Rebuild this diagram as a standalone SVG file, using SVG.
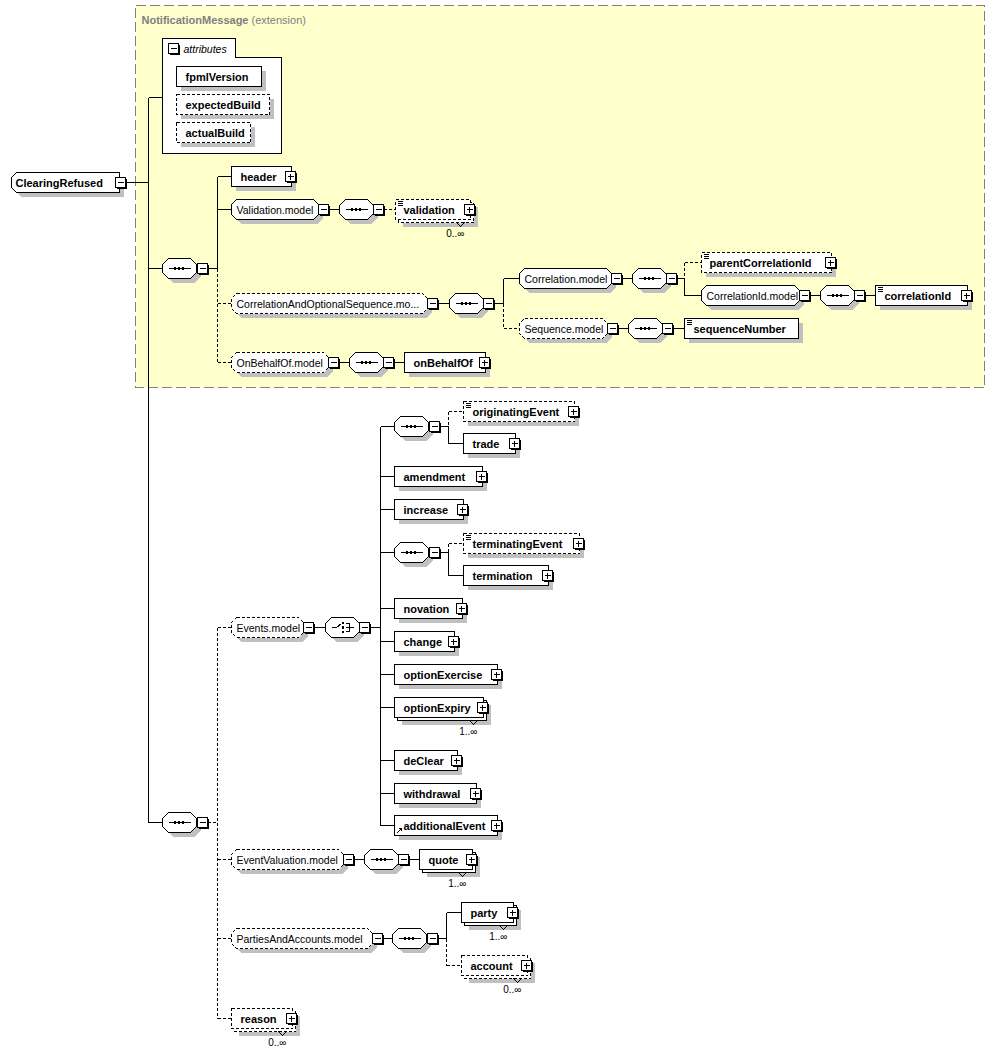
<svg xmlns="http://www.w3.org/2000/svg" xmlns:xlink="http://www.w3.org/1999/xlink" width="994" height="1054" viewBox="0 0 994 1054">
<style>
.nd{fill:#fff;stroke:#000;stroke-width:1}
.ds{stroke-dasharray:3,2}
.shd{fill:#c0c0c0;stroke:none}
.ln{stroke:#000;stroke-width:1;fill:none}
.dl{stroke:#000;stroke-width:1;fill:none;stroke-dasharray:3,2}
.b{font-family:"Liberation Sans",Arial,sans-serif;font-weight:bold;font-size:11px;fill:#000}
.m{font-family:"Liberation Sans",Arial,sans-serif;font-size:10.5px;fill:#000}
.c{font-family:"Liberation Sans","DejaVu Sans",Arial,sans-serif;font-size:10px;fill:#000;text-anchor:end}
.ttl{font-family:"Liberation Sans",Arial,sans-serif;font-size:11px;fill:#808080}
</style>
<defs>
<g id="minus"><rect x="1" y="1" width="10" height="10" fill="#000"/><rect x="0" y="0" width="10" height="10" class="nd"/><line x1="2" y1="5" x2="8" y2="5" class="ln"/></g>
<g id="plus"><rect x="1" y="1" width="10" height="10" fill="#000"/><rect x="0" y="0" width="10" height="10" class="nd"/><line x1="2" y1="5" x2="8" y2="5" class="ln"/><line x1="5" y1="2" x2="5" y2="8" class="ln"/></g>
<g id="sc"><line x1="2" y1="2" x2="7" y2="2" class="ln"/><line x1="2" y1="4" x2="7" y2="4" class="ln"/><line x1="2" y1="6" x2="7" y2="6" class="ln"/></g>
<g id="seq"><polygon class="shd" points="10,4 32,4 38,10 38,18 32,24 10,24 4,18 4,10"/><polygon class="nd" points="6,0 28,0 34,6 34,14 28,20 6,20 0,14 0,6"/><line x1="6" y1="10" x2="28" y2="10" class="ln"/><rect x="11.5" y="8.5" width="2" height="3" fill="#000"/><rect x="15.5" y="8.5" width="2" height="3" fill="#000"/><rect x="19.5" y="8.5" width="2" height="3" fill="#000"/></g>
<g id="cho"><polygon class="shd" points="10,4 32,4 38,10 38,18 32,24 10,24 4,18 4,10"/><polygon class="nd" points="6,0 28,0 34,6 34,14 28,20 6,20 0,14 0,6"/><polyline points="6,10 11,10 16,6" class="ln"/><rect x="16.5" y="4.5" width="2" height="2" fill="#000"/><rect x="16.5" y="8.5" width="2" height="3" fill="#000"/><rect x="16.5" y="13.5" width="2" height="2" fill="#000"/><polyline points="20,6 24,6 24,14 20,14" class="ln"/><line x1="20" y1="10" x2="28" y2="10" class="ln"/></g>
</defs>
<g transform="translate(0.5,0.5)" shape-rendering="crispEdges">
<g id="notificationmessage">
<rect x="135" y="5" width="849" height="382" fill="#ffffcc" stroke="#808080" stroke-dasharray="10,4"/>
<text class="ttl" x="141" y="23"><tspan font-weight="bold">NotificationMessage</tspan> (extension)</text>
</g>
<g id="connectors">
<path class="ln" d="M125,182H148M148,97V822M148,97H162M148,268H162M148,822H162M207,268H217M217,176V268M217,176H231M217,209H231M328,209H339M437,303H449M493,303H503M503,278V303M503,278H519M621,278H632M676,278H684M684,278V295M684,295H701M809,295H820M864,295H875M617,328H628M672,328H684M338,362H349M393,362H404"/>
<path class="dl" d="M217,268V362M217,303H231M217,362H231M383,209H395M503,303V328M503,328H519M684,262V278M684,262H701"/>
<path class="ln" d="M313,627H325M369,627H380M380,426V825M380,426H394M380,476H394M380,509H394M380,552H394M380,608H394M380,641H394M380,674H394M380,707H394M380,760H394M380,793H394M380,825H394M439,426H448M448,426V443M448,443H463M439,552H448M448,552V575M448,575H463M353,859H364M408,859H419M382,938H392M437,938H446M446,912V938M446,912H461"/>
<path class="dl" d="M207,822H217M217,627V1018M217,627H231M217,859H231M217,938H231M217,1018H231M448,411V426M448,411H463M448,543V552M448,543H463M446,938V965M446,965H461"/>
</g>
<g id="clearingrefused">
<path class="shd" transform="translate(4,4)" d="M16,172H119V192H16L11,187V177Z"/>
<path class="nd" d="M16,172H119V192H16L11,187V177Z"/>
<text class="b" x="15" y="186">ClearingRefused</text>
<use xlink:href="#minus" x="115" y="177"/>
</g>
<g id="attributes">
<path class="nd" d="M162,57V38H235V57H281V153H162Z"/>
<use xlink:href="#minus" x="168" y="43"/>
<text class="m" x="183" y="52" font-style="italic" font-size="11px">attributes</text>
<rect class="shd" x="180" y="70" width="85" height="20"/>
<rect class="nd" x="176" y="66" width="85" height="20"/>
<text class="b" x="185" y="80">fpmlVersion</text>
<rect class="shd" x="180" y="98" width="93" height="20"/>
<rect class="nd ds" x="176" y="94" width="93" height="20"/>
<text class="b" x="185" y="108">expectedBuild</text>
<rect class="shd" x="180" y="126" width="74" height="20"/>
<rect class="nd ds" x="176" y="122" width="74" height="20"/>
<text class="b" x="185" y="136">actualBuild</text>
</g>
<g id="seq-top"><use xlink:href="#seq" x="162" y="258"/><use xlink:href="#minus" x="197" y="263"/></g>
<g id="header">
<rect class="shd" x="235" y="170" width="60" height="20"/>
<rect class="nd" x="231" y="166" width="60" height="20"/>
<text class="b" x="240" y="180">header</text>
<use xlink:href="#plus" x="285" y="171"/>
</g>
<g id="validation-model">
<polygon class="shd" transform="translate(4,4)" points="236,199 313,199 318,204 318,214 313,219 236,219 231,214 231,204"/>
<polygon class="nd" points="236,199 313,199 318,204 318,214 313,219 236,219 231,214 231,204"/>
<text class="m" x="236" y="213">Validation.model</text>
<use xlink:href="#minus" x="318" y="204"/>
</g>
<g id="seq-validation"><use xlink:href="#seq" x="339" y="199"/><use xlink:href="#minus" x="373" y="204"/></g>
<g id="validation">
<rect class="shd" x="402" y="206" width="75" height="20"/>
<rect class="nd ds" x="398" y="202" width="75" height="20"/>
<rect class="nd ds" x="395" y="199" width="75" height="20"/>
<use xlink:href="#sc" x="395" y="199"/>
<text class="b" x="403" y="213">validation</text>
<use xlink:href="#plus" x="464" y="204"/>
<polyline class="ln" points="456,222 460,226 464,222"/>
<text class="c" x="464" y="236">0..∞</text>
</g>
<g id="correlationandoptionalsequence-model">
<polygon class="shd" transform="translate(4,4)" points="236,293 422,293 427,298 427,308 422,313 236,313 231,308 231,298"/>
<polygon class="nd ds" points="236,293 422,293 427,298 427,308 422,313 236,313 231,308 231,298"/>
<text class="m" x="236" y="307">CorrelationAndOptionalSequence.mo...</text>
<use xlink:href="#minus" x="427" y="298"/>
</g>
<g id="seq-corropt"><use xlink:href="#seq" x="449" y="293"/><use xlink:href="#minus" x="483" y="298"/></g>
<g id="correlation-model">
<polygon class="shd" transform="translate(4,4)" points="524,268 606,268 611,273 611,283 606,288 524,288 519,283 519,273"/>
<polygon class="nd" points="524,268 606,268 611,273 611,283 606,288 524,288 519,283 519,273"/>
<text class="m" x="524" y="282">Correlation.model</text>
<use xlink:href="#minus" x="611" y="273"/>
</g>
<g id="seq-correlation"><use xlink:href="#seq" x="632" y="268"/><use xlink:href="#minus" x="666" y="273"/></g>
<g id="parentcorrelationid">
<rect class="shd" x="705" y="256" width="130" height="20"/>
<rect class="nd ds" x="701" y="252" width="130" height="20"/>
<use xlink:href="#sc" x="701" y="252"/>
<text class="b" x="709" y="266">parentCorrelationId</text>
<use xlink:href="#plus" x="825" y="257"/>
</g>
<g id="correlationid-model">
<polygon class="shd" transform="translate(4,4)" points="706,285 794,285 799,290 799,300 794,305 706,305 701,300 701,290"/>
<polygon class="nd" points="706,285 794,285 799,290 799,300 794,305 706,305 701,300 701,290"/>
<text class="m" x="706" y="299">CorrelationId.model</text>
<use xlink:href="#minus" x="799" y="290"/>
</g>
<g id="seq-correlationid"><use xlink:href="#seq" x="820" y="285"/><use xlink:href="#minus" x="854" y="290"/></g>
<g id="correlationid">
<rect class="shd" x="879" y="289" width="92" height="20"/>
<rect class="nd" x="875" y="285" width="92" height="20"/>
<use xlink:href="#sc" x="875" y="285"/>
<text class="b" x="884" y="299">correlationId</text>
<use xlink:href="#plus" x="961" y="290"/>
</g>
<g id="sequence-model">
<polygon class="shd" transform="translate(4,4)" points="524,318 602,318 607,323 607,333 602,338 524,338 519,333 519,323"/>
<polygon class="nd ds" points="524,318 602,318 607,323 607,333 602,338 524,338 519,333 519,323"/>
<text class="m" x="524" y="332">Sequence.model</text>
<use xlink:href="#minus" x="607" y="323"/>
</g>
<g id="seq-sequence"><use xlink:href="#seq" x="628" y="318"/><use xlink:href="#minus" x="662" y="323"/></g>
<g id="sequencenumber">
<rect class="shd" x="688" y="322" width="114" height="20"/>
<rect class="nd" x="684" y="318" width="114" height="20"/>
<use xlink:href="#sc" x="684" y="318"/>
<text class="b" x="693" y="332">sequenceNumber</text>
</g>
<g id="onbehalfof-model">
<polygon class="shd" transform="translate(4,4)" points="236,352 323,352 328,357 328,367 323,372 236,372 231,367 231,357"/>
<polygon class="nd ds" points="236,352 323,352 328,357 328,367 323,372 236,372 231,367 231,357"/>
<text class="m" x="236" y="366">OnBehalfOf.model</text>
<use xlink:href="#minus" x="328" y="357"/>
</g>
<g id="seq-onbehalfof"><use xlink:href="#seq" x="349" y="352"/><use xlink:href="#minus" x="383" y="357"/></g>
<g id="onbehalfof">
<rect class="shd" x="408" y="356" width="81" height="20"/>
<rect class="nd" x="404" y="352" width="81" height="20"/>
<text class="b" x="413" y="366">onBehalfOf</text>
<use xlink:href="#plus" x="479" y="357"/>
</g>
<g id="seq-bottom"><use xlink:href="#seq" x="162" y="812"/><use xlink:href="#minus" x="197" y="817"/></g>
<g id="events-model">
<polygon class="shd" transform="translate(4,4)" points="236,617 298,617 303,622 303,632 298,637 236,637 231,632 231,622"/>
<polygon class="nd ds" points="236,617 298,617 303,622 303,632 298,637 236,637 231,632 231,622"/>
<text class="m" x="236" y="631">Events.model</text>
<use xlink:href="#minus" x="303" y="622"/>
</g>
<g id="choice-events"><use xlink:href="#cho" x="325" y="617"/><use xlink:href="#minus" x="359" y="622"/></g>
<g id="seq-orig"><use xlink:href="#seq" x="394" y="416"/><use xlink:href="#minus" x="429" y="421"/></g>
<g id="originatingevent">
<rect class="shd" x="467" y="405" width="111" height="20"/>
<rect class="nd ds" x="463" y="401" width="111" height="20"/>
<use xlink:href="#sc" x="463" y="401"/>
<text class="b" x="472" y="415">originatingEvent</text>
<use xlink:href="#plus" x="568" y="406"/>
</g>
<g id="trade">
<rect class="shd" x="467" y="437" width="52" height="20"/>
<rect class="nd" x="463" y="433" width="52" height="20"/>
<text class="b" x="472" y="447">trade</text>
<use xlink:href="#plus" x="509" y="438"/>
</g>
<g id="amendment">
<rect class="shd" x="398" y="470" width="88" height="20"/>
<rect class="nd" x="394" y="466" width="88" height="20"/>
<text class="b" x="403" y="480">amendment</text>
<use xlink:href="#plus" x="476" y="471"/>
</g>
<g id="increase">
<rect class="shd" x="398" y="503" width="69" height="20"/>
<rect class="nd" x="394" y="499" width="69" height="20"/>
<text class="b" x="403" y="513">increase</text>
<use xlink:href="#plus" x="457" y="504"/>
</g>
<g id="seq-term"><use xlink:href="#seq" x="394" y="542"/><use xlink:href="#minus" x="429" y="547"/></g>
<g id="terminatingevent">
<rect class="shd" x="467" y="537" width="116" height="20"/>
<rect class="nd ds" x="463" y="533" width="116" height="20"/>
<use xlink:href="#sc" x="463" y="533"/>
<text class="b" x="472" y="547">terminatingEvent</text>
<use xlink:href="#plus" x="573" y="538"/>
</g>
<g id="termination">
<rect class="shd" x="467" y="569" width="85" height="20"/>
<rect class="nd" x="463" y="565" width="85" height="20"/>
<text class="b" x="472" y="579">termination</text>
<use xlink:href="#plus" x="542" y="570"/>
</g>
<g id="novation">
<rect class="shd" x="398" y="602" width="68" height="20"/>
<rect class="nd" x="394" y="598" width="68" height="20"/>
<text class="b" x="403" y="612">novation</text>
<use xlink:href="#plus" x="456" y="603"/>
</g>
<g id="change">
<rect class="shd" x="398" y="635" width="60" height="20"/>
<rect class="nd" x="394" y="631" width="60" height="20"/>
<text class="b" x="403" y="645">change</text>
<use xlink:href="#plus" x="448" y="636"/>
</g>
<g id="optionexercise">
<rect class="shd" x="398" y="668" width="103" height="20"/>
<rect class="nd" x="394" y="664" width="103" height="20"/>
<text class="b" x="403" y="678">optionExercise</text>
<use xlink:href="#plus" x="491" y="669"/>
</g>
<g id="optionexpiry">
<rect class="shd" x="401" y="704" width="89" height="20"/>
<rect class="nd" x="397" y="700" width="89" height="20"/>
<rect class="nd" x="394" y="697" width="89" height="20"/>
<text class="b" x="403" y="711">optionExpiry</text>
<use xlink:href="#plus" x="477" y="702"/>
<polyline class="ln" points="469,720 473,724 477,720"/>
<text class="c" x="477" y="734">1..∞</text>
</g>
<g id="declear">
<rect class="shd" x="398" y="754" width="63" height="20"/>
<rect class="nd" x="394" y="750" width="63" height="20"/>
<text class="b" x="403" y="764">deClear</text>
<use xlink:href="#plus" x="451" y="755"/>
</g>
<g id="withdrawal">
<rect class="shd" x="398" y="787" width="82" height="20"/>
<rect class="nd" x="394" y="783" width="82" height="20"/>
<text class="b" x="403" y="797">withdrawal</text>
<use xlink:href="#plus" x="470" y="788"/>
</g>
<g id="additionalevent">
<rect class="shd" x="398" y="819" width="103" height="20"/>
<rect class="nd" x="394" y="815" width="103" height="20"/>
<line class="ln" x1="396" y1="833" x2="400" y2="829"/>
<polygon points="398,828 402,827 401,831" fill="#000"/>
<text class="b" x="403" y="829">additionalEvent</text>
<use xlink:href="#plus" x="491" y="820"/>
</g>
<g id="eventvaluation-model">
<polygon class="shd" transform="translate(4,4)" points="236,849 338,849 343,854 343,864 338,869 236,869 231,864 231,854"/>
<polygon class="nd ds" points="236,849 338,849 343,854 343,864 338,869 236,869 231,864 231,854"/>
<text class="m" x="236" y="863">EventValuation.model</text>
<use xlink:href="#minus" x="343" y="854"/>
</g>
<g id="seq-eventvaluation"><use xlink:href="#seq" x="364" y="849"/><use xlink:href="#minus" x="398" y="854"/></g>
<g id="quote">
<rect class="shd" x="426" y="856" width="53" height="20"/>
<rect class="nd" x="422" y="852" width="53" height="20"/>
<rect class="nd" x="419" y="849" width="53" height="20"/>
<text class="b" x="428" y="863">quote</text>
<use xlink:href="#plus" x="466" y="854"/>
<polyline class="ln" points="458,872 462,876 466,872"/>
<text class="c" x="466" y="886">1..∞</text>
</g>
<g id="partiesandaccounts-model">
<polygon class="shd" transform="translate(4,4)" points="236,928 367,928 372,933 372,943 367,948 236,948 231,943 231,933"/>
<polygon class="nd ds" points="236,928 367,928 372,933 372,943 367,948 236,948 231,943 231,933"/>
<text class="m" x="236" y="942">PartiesAndAccounts.model</text>
<use xlink:href="#minus" x="372" y="933"/>
</g>
<g id="seq-parties"><use xlink:href="#seq" x="392" y="928"/><use xlink:href="#minus" x="427" y="933"/></g>
<g id="party">
<rect class="shd" x="468" y="909" width="52" height="20"/>
<rect class="nd" x="464" y="905" width="52" height="20"/>
<rect class="nd" x="461" y="902" width="52" height="20"/>
<text class="b" x="470" y="916">party</text>
<use xlink:href="#plus" x="507" y="907"/>
<polyline class="ln" points="499,925 503,929 507,925"/>
<text class="c" x="507" y="939">1..∞</text>
</g>
<g id="account">
<rect class="shd" x="468" y="962" width="66" height="20"/>
<rect class="nd ds" x="464" y="958" width="66" height="20"/>
<rect class="nd ds" x="461" y="955" width="66" height="20"/>
<text class="b" x="470" y="969">account</text>
<use xlink:href="#plus" x="521" y="960"/>
<polyline class="ln" points="513,978 517,982 521,978"/>
<text class="c" x="521" y="992">0..∞</text>
</g>
<g id="reason">
<rect class="shd" x="238" y="1015" width="61" height="20"/>
<rect class="nd ds" x="234" y="1011" width="61" height="20"/>
<rect class="nd ds" x="231" y="1008" width="61" height="20"/>
<text class="b" x="240" y="1022">reason</text>
<use xlink:href="#plus" x="286" y="1013"/>
<polyline class="ln" points="278,1031 282,1035 286,1031"/>
<text class="c" x="286" y="1045">0..∞</text>
</g>
</g>
</svg>
